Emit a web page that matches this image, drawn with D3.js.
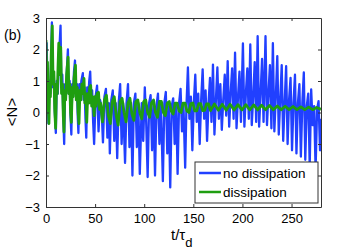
<!DOCTYPE html>
<html>
<head>
<meta charset="utf-8">
<script src="https://cdnjs.cloudflare.com/ajax/libs/d3/7.8.5/d3.min.js"></script>
<style>
  body { margin: 0; background: #fff; }
  text { font-family: "Liberation Sans", Arial, sans-serif; fill: #000; }
</style>
</head>
<body>
<div id="chart"></div>
<script>
// values, pairs of [t/tau_d, <N>]
var noDissipation = [
  [0, 0.5], [0.7, 2.2], [1.5, 0.6], [2.5, -0.35], [3.5, 1.0], [4.5, 0.6], [5.3, 1.8], [6, 2.86], [7, 0.8], [8, 1.2],
  [9, 0.0], [10, -0.65], [11, 1.0], [12, 0.6], [13, 1.6], [14.8, 2.76], [15.7, 0.8], [16.6, 1.2], [17.5, 0.0], [18.5, -1.0],
  [19.5, 0.9], [20.5, 0.6], [21.3, 1.4], [22.3, 2.0], [23.2, 0.6], [24.1, 1.0], [25, -0.1], [25.8, -0.7], [26.7, 0.9], [27.6, 0.6],
  [28.5, 1.3], [29.5, 1.65], [30.4, 0.5], [31.5, 0.9], [32.3, -0.1], [33, -0.65], [34, 0.9], [35, 0.5], [36, 1.0], [37.5, 1.25],
  [38.3, 0.4], [39.3, 0.8], [40.2, -0.2], [41, -0.8], [42, 0.8], [43, 0.4], [44, 1.0], [45, 1.3], [46, 0.3], [47, 0.7],
  [48, -0.3], [49, -1.0], [50.5, 0.5], [52, 0.85], [53.5, -0.6], [55, 0.4], [56.5, 0.2], [58, -0.95], [59.5, 0.5], [61, 0.75],
  [62.5, -0.8], [64, 0.3], [65, -1.3], [66.5, 0.4], [68, 0.7], [69.5, -0.9], [71, 0.3], [72.5, -1.45], [74, 0.3], [75.5, 0.9],
  [77, -1.0], [78.5, 0.3], [80.5, -1.6], [82, 0.3], [83.5, 0.9], [85, -1.1], [86.5, 0.3], [88, -2.0], [89.5, 0.3], [91, 0.6],
  [92.5, -1.1], [94, 0.3], [95.5, -1.95], [97.5, 0.3], [99, -0.9], [100.6, 0.8], [102, -0.3], [103.5, -2.05], [105, 0.3], [106.5, 0.55],
  [108, -1.2], [109.5, 0.3], [111, -2.0], [112.5, 0.2], [114, 0.6], [115.5, -1.0], [117, 0.3], [119, -2.18], [120.5, 0.3], [122, 0.65],
  [123.5, -1.3], [125, 0.2], [126.5, -2.38], [128, 0.2], [129.5, 0.45], [131, -1.0], [132.5, 0.3], [134, -1.95], [135.5, 0.3], [137, 0.75],
  [138.5, -0.6], [140, 0.2], [141.7, -1.75], [143, 0.2], [144.5, 1.43], [146, -0.2], [147.5, 0.5], [149, -1.2], [150.5, 0.3], [152, 1.2],
  [153.5, -0.3], [155, 0.6], [156.5, -1.0], [158, 0.4], [159.5, 1.37], [161, -0.2], [162.5, 0.7], [164, -0.9], [165.5, 0.3], [167, 1.1],
  [168.5, -0.3], [170, 1.52], [171.5, -0.7], [173, 0.4], [174.5, 1.43], [176, -0.2], [177.5, 0.9], [179, -0.55], [180.5, 0.4], [182, 1.2],
  [183.5, -0.1], [185, 1.63], [186.5, -0.45], [188, 0.6], [189.5, 1.4], [191, -0.2], [192.5, 1.9], [194, -0.5], [195.5, 0.5], [197, 1.3],
  [198.5, -0.3], [200.5, 2.19], [202, -0.45], [203.5, 0.6], [205, 1.4], [206.5, -0.2], [208, 2.16], [209.5, -0.4], [211, 0.5], [212.5, 1.6],
  [214, -0.3], [215.5, 2.42], [217, -0.45], [218.5, 0.6], [220, 1.7], [221.5, -0.3], [223.5, 2.42], [225, -0.4], [226.5, 0.6], [228, 1.5],
  [229.5, -0.5], [231, 2.2], [232.5, -0.6], [234, 0.5], [235.5, 1.79], [237, -0.7], [238.5, 0.4], [240, 1.5], [241.5, -0.9], [243, 0.3],
  [244.5, 1.47], [246, -1.0], [247.5, 0.4], [249, 1.1], [250.5, -1.2], [252, 0.3], [253.5, 1.2], [255, -1.3], [256.5, 0.3], [258, 0.9],
  [259.5, -1.4], [261, 0.3], [262.5, 1.27], [264, -1.5], [265.5, 0.2], [267, 0.6], [268.5, -1.7], [270, 0.73], [271.5, -0.4], [273, 0.2],
  [274.5, -1.8], [276, 0.1], [277.5, 0.36], [279, -1.2], [280, -0.2]
];

var dissipation = [
  [0, 2.3], [0.8, 1.2], [1.5, 1.6], [2.2, 0.3], [3, -0.35], [3.8, 0.9], [4.5, 0.5], [5.3, 1.8], [6.4, 2.75], [7.2, 0.9],
  [8, 1.3], [8.9, 0.1], [9.8, -0.5], [10.7, 0.9], [11.5, 0.6], [12.3, 1.5], [13, 2.2], [13.8, 1.2], [15, 2.07], [15.8, 0.6],
  [16.8, 0.9], [17.6, -0.1], [18.3, -0.62], [19.2, 0.7], [20, 0.4], [21, 1.2], [22.5, 1.76], [23.3, 0.6], [24.2, 0.9], [25, 0.0],
  [25.8, -0.31], [26.8, 0.8], [27.6, 0.5], [28.6, 1.1], [30, 1.5], [30.8, 0.4], [31.8, 0.8], [32.7, 0.0], [33.6, -0.35], [34.6, 0.7],
  [35.5, 0.4], [36.5, 0.9], [37.5, 0.6], [38.7, 1.08], [39.5, 0.3], [40.5, 0.6], [41.5, -0.31], [42.5, 0.6], [43.5, 0.3], [44.5, 0.8],
  [45.5, 0.86], [46.5, 0.2], [47.5, 0.5], [49, -0.1], [50, 0.5], [51, 0.2], [52, 0.6], [53.5, 0.64], [54.5, 0.1], [55.5, 0.3],
  [57.5, -0.3], [59.5, 0.4], [61.5, 0.55], [63.5, -0.1], [65.5, -0.35], [67.5, 0.35], [69.5, 0.5], [71.5, -0.1], [73.5, -0.4], [75.5, 0.35],
  [77.5, 0.45], [79.5, 0.0], [81.5, -0.3], [83.5, 0.3], [85.5, 0.45], [87.5, -0.05], [89.5, -0.25], [91.5, 0.35], [93.5, 0.4], [95.5, 0.0],
  [97.5, -0.2], [99.5, 0.35], [101.5, 0.4], [103.5, 0.0], [105.5, -0.15], [107.5, 0.3], [109.5, 0.4], [111.5, 0.0], [113.5, -0.15], [115.5, 0.35],
  [117.5, 0.35], [119.5, 0.0], [121.5, -0.1], [123.5, 0.3], [125.5, 0.35], [127.5, 0.05], [129.5, -0.05], [131.5, 0.3], [133.5, 0.3], [135.5, 0.05],
  [137.5, 0.0], [139.5, 0.3], [141.5, 0.3], [143.5, 0.05], [145.5, 0.0], [147.5, 0.28], [149.5, 0.3], [151.5, 0.05], [153.5, 0.05], [155.5, 0.28],
  [157.5, 0.28], [159.5, 0.06], [161.5, 0.07], [163.5, 0.27], [165.5, 0.27], [167.5, 0.06], [171.5, 0.27], [175.5, 0.07], [179.5, 0.26], [183.5, 0.07],
  [187.5, 0.26], [191.5, 0.08], [195.5, 0.25], [199.5, 0.08], [203.5, 0.25], [207.5, 0.08], [211.5, 0.24], [215.5, 0.08], [219.5, 0.23], [223.5, 0.09],
  [227.5, 0.22], [231.5, 0.09], [235.5, 0.21], [239.5, 0.09], [243.5, 0.2], [247.5, 0.09], [251.5, 0.19], [255.5, 0.09], [259.5, 0.18], [263.5, 0.09],
  [267.5, 0.17], [271.5, 0.09], [275.5, 0.16], [280, 0.1]
];

var xTicks = [0, 50, 100, 150, 200, 250];
var yTicks = [-3, -2, -1, 0, 1, 2, 3];
var seriesNames = ["no dissipation", "dissipation"];
var seriesColors = ["#2140ff", "#1f9e10"];

var margin = { top: 18, right: 33, bottom: 45, left: 46 },
  width = 354 - margin.left - margin.right,
  height = 252 - margin.top - margin.bottom;

var svg = d3
  .select("#chart")
  .append("svg")
  .attr("width", 354)
  .attr("height", 252);

var g = svg
  .append("g")
  .attr("transform", "translate(" + margin.left + "," + margin.top + ")");

var x = d3.scaleLinear().domain([0, 280]).range([0, width]);
var y = d3.scaleLinear().domain([-3, 3]).range([height, 0]);

g.append("clipPath")
  .attr("id", "clip")
  .append("rect")
  .attr("width", width)
  .attr("height", height);

var line = d3
  .line()
  .x(function (d) { return x(d[0]); })
  .y(function (d) { return y(d[1]); });

g.append("path")
  .datum(noDissipation)
  .attr("clip-path", "url(#clip)")
  .attr("fill", "none")
  .attr("stroke", seriesColors[0])
  .attr("stroke-width", 2.3)
  .attr("stroke-linejoin", "round")
  .attr("d", line);

g.append("path")
  .datum(dissipation)
  .attr("clip-path", "url(#clip)")
  .attr("fill", "none")
  .attr("stroke", seriesColors[1])
  .attr("stroke-width", 2.8)
  .attr("stroke-linejoin", "round")
  .attr("d", line);

// matlab style box with inward ticks on every side
var tickLen = 3;
function styleAxis(sel) {
  sel.selectAll("path").attr("stroke", "#333");
  sel.selectAll("line").attr("stroke", "#333");
  sel.selectAll("text").style("font-size", "13px");
}

g.append("g")
  .attr("transform", "translate(0," + height + ")")
  .call(d3.axisBottom(x).tickValues(xTicks).tickSizeInner(-tickLen).tickSizeOuter(0).tickPadding(7))
  .call(styleAxis);

g.append("g")
  .call(d3.axisTop(x).tickValues(xTicks).tickSizeInner(-tickLen).tickSizeOuter(0).tickFormat(""))
  .call(styleAxis);

g.append("g")
  .call(d3.axisLeft(y).tickValues(yTicks).tickFormat(d3.format("d")).tickSizeInner(-tickLen).tickSizeOuter(0).tickPadding(6))
  .call(styleAxis);

g.append("g")
  .attr("transform", "translate(" + width + ",0)")
  .call(d3.axisRight(y).tickValues(yTicks).tickSizeInner(-tickLen).tickSizeOuter(0).tickFormat(""))
  .call(styleAxis);

// legend
var legend = g.append("g").attr("transform", "translate(149,144)");
legend
  .append("rect")
  .attr("width", 123)
  .attr("height", 41)
  .attr("fill", "#fff")
  .attr("stroke", "#333");

seriesNames.forEach(function (name, i) {
  var ly = 11 + i * 19;
  legend
    .append("line")
    .attr("x1", 4)
    .attr("x2", 26)
    .attr("y1", ly)
    .attr("y2", ly)
    .attr("stroke", seriesColors[i])
    .attr("stroke-width", 2.5);
  legend
    .append("text")
    .attr("x", 28)
    .attr("y", ly + 5)
    .style("font-size", "13.5px")
    .text(name);
});

// labels
svg
  .append("text")
  .attr("x", 4)
  .attr("y", 40)
  .style("font-size", "14px")
  .text("(b)");

svg
  .append("text")
  .attr("transform", "translate(17,112)rotate(-90)")
  .attr("text-anchor", "middle")
  .style("font-size", "15px")
  .text("<N>");

var xl = svg
  .append("text")
  .attr("x", 171)
  .attr("y", 240)
  .style("font-size", "15px");
xl.append("tspan").text("t/τ");
xl.append("tspan").attr("dy", 7).style("font-size", "13px").text("d");
</script>
</body>
</html>
